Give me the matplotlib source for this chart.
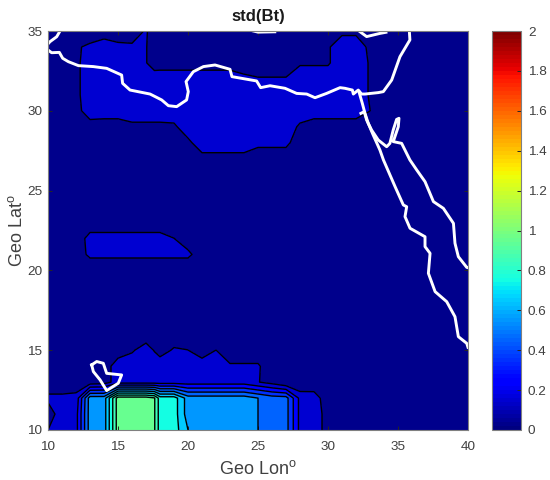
import numpy as np
import matplotlib
matplotlib.use("Agg")
import matplotlib.pyplot as plt
from matplotlib.cm import ScalarMappable
from matplotlib.colors import Normalize

plt.rcParams["font.family"] = ["Liberation Sans", "DejaVu Sans"]
plt.rcParams["mathtext.default"] = "regular"

lon = [10, 11, 12, 13, 14, 15, 16, 17, 17.6, 18,
       19, 20, 21, 22, 23, 24, 25, 26, 27, 28,
       29, 30, 31, 32, 33, 34, 35, 36, 37, 38, 39, 40]
lat = [35, 34, 33, 32, 31, 30, 29, 28, 27, 26, 25, 24, 23,
       22, 21, 20, 19, 18, 17, 16, 15, 14, 13, 12, 11, 10]

# std(Bt), rows go from north to south
std_bt = [
    [.05, .05, .05, .05, .05, .05, .05, .11, .05, .05, .05, .05, .05, .05, .05, .05, .05, .05, .05, .05, .05, .05, .08, .08, .05, .05, .05, .05, .05, .05, .05, .05],
    [.05, .05, .09, .115, .15, .12, .115, .105, .05, .05, .05, .05, .05, .05, .05, .05, .05, .05, .05, .05, .05, .09, .15, .15, .08, .05, .05, .05, .05, .05, .05, .05],
    [.05, .05, .07, .17, .15, .15, .15, .105, .05, .05, .05, .05, .05, .05, .05, .05, .05, .05, .05, .09, .09, .09, .15, .16, .09, .05, .05, .05, .05, .05, .05, .05],
    [.05, .05, .07, .17, .15, .15, .15, .15, .155, .16, .16, .16, .16, .16, .16, .121, .106, .106, .106, .15, .15, .15, .15, .16, .09, .05, .05, .05, .05, .05, .05, .05],
    [.05, .05, .07, .17, .15, .15, .15, .15, .15, .15, .15, .15, .15, .15, .15, .15, .15, .15, .15, .15, .15, .15, .15, .16, .09, .05, .05, .05, .05, .05, .05, .05],
    [.05, .05, .06, .16, .15, .15, .15, .15, .15, .15, .15, .15, .15, .15, .15, .15, .15, .15, .15, .15, .15, .15, .15, .15, .101, .05, .05, .05, .05, .05, .05, .05],
    [.05, .05, .05, .05, .05, .05, .08, .08, .08, .08, .085, .15, .15, .15, .15, .15, .15, .15, .15, .085, .05, .05, .05, .05, .05, .05, .05, .05, .05, .05, .05, .05],
    [.05, .05, .05, .05, .05, .05, .05, .05, .05, .05, .05, .08, .15, .15, .15, .15, .121, .121, .121, .05, .05, .05, .05, .05, .05, .05, .05, .05, .05, .05, .05, .05],
    [.05, .05, .05, .05, .05, .05, .05, .05, .05, .05, .05, .05, .07, .07, .07, .07, .05, .05, .05, .05, .05, .05, .05, .05, .05, .05, .05, .05, .05, .05, .05, .05],
    [.05, .05, .05, .05, .05, .05, .05, .05, .05, .05, .05, .05, .05, .05, .05, .05, .05, .05, .05, .05, .05, .05, .05, .05, .05, .05, .05, .05, .05, .05, .05, .05],
    [.05, .05, .05, .05, .05, .05, .05, .05, .05, .05, .05, .05, .05, .05, .05, .05, .05, .05, .05, .05, .05, .05, .05, .05, .05, .05, .05, .05, .05, .05, .05, .05],
    [.05, .05, .05, .05, .05, .05, .05, .05, .05, .05, .05, .05, .05, .05, .05, .05, .05, .05, .05, .05, .05, .05, .05, .05, .05, .05, .05, .05, .05, .05, .05, .05],
    [.05, .05, .05, .05, .05, .05, .05, .05, .05, .05, .05, .05, .05, .05, .05, .05, .05, .05, .05, .05, .05, .05, .05, .05, .05, .05, .05, .05, .05, .05, .05, .05],
    [.05, .05, .05, .13, .13, .13, .13, .13, .13, .13, .101, .05, .05, .05, .05, .05, .05, .05, .05, .05, .05, .05, .05, .05, .05, .05, .05, .05, .05, .05, .05, .05],
    [.05, .05, .05, .12, .12, .12, .12, .12, .12, .12, .12, .12, .05, .05, .05, .05, .05, .05, .05, .05, .05, .05, .05, .05, .05, .05, .05, .05, .05, .05, .05, .05],
    [.05, .05, .05, .03, .03, .03, .03, .03, .03, .03, .03, .03, .05, .05, .05, .05, .05, .05, .05, .05, .05, .05, .05, .05, .05, .05, .05, .05, .05, .05, .05, .05],
    [.05, .05, .05, .05, .05, .05, .05, .05, .05, .05, .05, .05, .05, .05, .05, .05, .05, .05, .05, .05, .05, .05, .05, .05, .05, .05, .05, .05, .05, .05, .05, .05],
    [.05, .05, .05, .05, .05, .05, .05, .05, .05, .05, .05, .05, .05, .05, .05, .05, .05, .05, .05, .05, .05, .05, .05, .05, .05, .05, .05, .05, .05, .05, .05, .05],
    [.05, .05, .05, .05, .05, .05, .05, .05, .05, .05, .05, .05, .05, .05, .05, .05, .05, .05, .05, .05, .05, .05, .05, .05, .05, .05, .05, .05, .05, .05, .05, .05],
    [.05, .05, .05, .05, .05, .05, .05, .05, .05, .05, .05, .05, .05, .05, .05, .05, .05, .05, .05, .05, .05, .05, .05, .05, .05, .05, .05, .05, .05, .05, .05, .05],
    [.05, .05, .05, .05, .05, .05, .09, .14, .095, .065, .11, .101, .05, .101, .05, .05, .05, .05, .05, .05, .05, .05, .05, .05, .05, .05, .05, .05, .05, .05, .05, .05],
    [.05, .05, .05, .05, .05, .15, .15, .15, .15, .15, .15, .15, .15, .15, .11, .11, .11, .05, .05, .05, .05, .05, .05, .05, .05, .05, .05, .05, .05, .05, .05, .05],
    [.04, .04, .04, .04, .05, .15, .15, .15, .15, .15, .15, .15, .15, .15, .15, .15, .105, .06, 0, 0, .04, .05, .05, .05, .05, .05, .05, .05, .05, .05, .05, .05],
    [.12, .12, .13, .55, .55, .95, .95, .95, .91, .75, .75, .55, .55, .55, .55, .55, .5, .45, .44, .17, .14, .05, .05, .05, .05, .05, .05, .05, .05, .05, .05, .05],
    [.05, .15, .16, .55, .55, .95, .95, .95, .91, .75, .75, .55, .55, .55, .55, .55, .5, .45, .44, .17, .14, .07, .05, .05, .05, .05, .05, .05, .05, .05, .05, .05],
    [.1, .15, .16, .55, .55, .95, .95, .95, .91, .75, .75, .6, .55, .55, .55, .55, .5, .45, .44, .17, .14, .07, .05, .05, .05, .05, .05, .05, .05, .05, .05, .05],
]

# coast lines and lake, lon/lat
north_west_lon = [10.86, 10.62, 10.14, 10]
north_west_lat = [35, 34.64, 34.33, 34.19]
med_lon = [10, 10.26, 10.81, 11.05, 11.45, 12.17, 13.24, 14.19, 15.26, 15.33, 15.86, 17.29, 18.12, 18.6, 19.19,
           19.9, 20.02, 19.86, 20.38, 21.1, 21.93, 23, 23.14, 24.9, 25.19, 25.86, 26.93, 27.76, 28.48, 29.07,
           29.9, 30.86, 31.21, 31.74, 31.81, 32.16, 32.4, 32.64, 33.59, 33.95, 34.55, 35.14, 35.85, 35.81]
med_lat = [33.81, 33.64, 33.66, 33.29, 33.08, 32.83, 32.77, 32.66, 32.24, 31.72, 31.3, 31.05, 30.68, 30.32, 30.26,
           30.68, 31.2, 31.83, 32.45, 32.77, 32.87, 32.6, 32.14, 31.87, 31.45, 31.57, 31.41, 31.09, 31.05, 30.82,
           31.09, 31.45, 31.41, 31.3, 31.05, 31.3, 31.05, 31.05, 31.14, 31.2, 31.93, 33.39, 34.44, 35]
west_lon = [32.21, 32.45, 32.64, 32.88, 33.23, 33.71, 33.96, 34.79, 35.38, 35.62, 35.5, 35.86, 36.93, 36.93, 37.29,
            37.17, 37.65, 38.48, 39.07, 39.31, 39.91, 40]
west_lat = [31.2, 30.47, 29.84, 29.2, 28.48, 27.54, 26.92, 25.25, 24.1, 23.99, 23.37, 22.64, 22.11, 21.49, 21.07,
            19.82, 18.67, 18.04, 17.1, 15.85, 15.43, 15.18]
east_lon = [32.35, 32.59, 32.76, 33.11, 33.59, 34.19, 34.42, 34.66, 34.9, 35.07, 35.02, 34.78, 34.66, 35.26, 35.85,
            36.34, 36.93, 37.53, 38.24, 38.96, 39.07, 39.31, 39.91, 40]
east_lat = [29.84, 29.95, 29.42, 28.8, 28.17, 27.75, 27.96, 28.8, 29.46, 29.53, 29, 28.38, 28.07, 27.96, 26.92,
            26.29, 25.56, 24.31, 23.89, 22.95, 21.7, 20.86, 20.19, 20.17]
top_lon = [32.28, 32.76, 33.71, 34.14]
top_lat = [34.96, 34.65, 34.85, 34.92]
top2_lon = [24.67, 25, 26.2]
top2_lat = [35, 34.93, 34.95]
lake_lon = [13.12, 13.48, 13.95, 14.19, 15.26, 15.02, 14.19, 13.72, 13.24, 13.12]
lake_lat = [14.08, 14.29, 14.18, 13.55, 13.45, 12.93, 12.47, 13.14, 13.66, 14.08]

levels = np.arange(0, 2.01, 0.1)
cbar_ticks = [0, 0.2, 0.4, 0.6, 0.8, 1, 1.2, 1.4, 1.6, 1.8, 2]
cbar_labels = ["0", "0.2", "0.4", "0.6", "0.8", "1", "1.2", "1.4", "1.6", "1.8", "2"]

jet = plt.get_cmap("jet", 100)
norm = Normalize(0, 2)
band_colors = [jet(norm(v + 0.05)) for v in levels[:-1]]
band_colors[0] = "#00008c"

fig = plt.figure(figsize=(5.5, 4.8), dpi=100)
ax = fig.add_axes([48 / 550, 50 / 480, 420 / 550, 399 / 480])

ax.contourf(lon, lat, std_bt, levels=levels, colors=band_colors)
ax.contour(lon, lat, std_bt, levels=levels[1:], colors="black", linewidths=1.0)

for xs, ys in [(north_west_lon, north_west_lat), (med_lon, med_lat), (west_lon, west_lat),
               (east_lon, east_lat), (top_lon, top_lat), (top2_lon, top2_lat), (lake_lon, lake_lat)]:
    ax.plot(xs, ys, color="white", linewidth=2.1, solid_joinstyle="round")

ax.set_xlim(10, 40)
ax.set_ylim(10, 35)
ax.set_xticks(range(10, 41, 5))
ax.set_yticks(range(10, 36, 5))
ax.tick_params(direction="in", top=True, right=True, length=3, width=0.7, color="#262626",
               labelcolor="#404040", labelsize=9.7)
ax.tick_params(axis="x", pad=8)
ax.tick_params(axis="y", pad=4)
for s in ax.spines.values():
    s.set_color("#808080")
    s.set_linewidth(0.8)
ax.set_xlabel("Geo Lon$^{o}$", fontsize=13, color="#404040", labelpad=5)
ax.set_ylabel("Geo Lat$^{o}$", fontsize=13, color="#404040", labelpad=1)
ax.set_title("std(Bt)", fontsize=12, fontweight="bold", color="#1a1a1a", pad=7)

cax = fig.add_axes([492 / 550, 50 / 480, 29 / 550, 399 / 480])
cbar = fig.colorbar(ScalarMappable(norm=norm, cmap=jet), cax=cax)
cbar.set_ticks(cbar_ticks)
cbar.set_ticklabels(cbar_labels)
cax.tick_params(direction="in", length=3, width=0.7, color="#262626", labelcolor="#404040",
                labelsize=9.7, pad=5)
cbar.outline.set_edgecolor("#808080")
cbar.outline.set_linewidth(0.8)

fig.savefig("out.png", dpi=100)
